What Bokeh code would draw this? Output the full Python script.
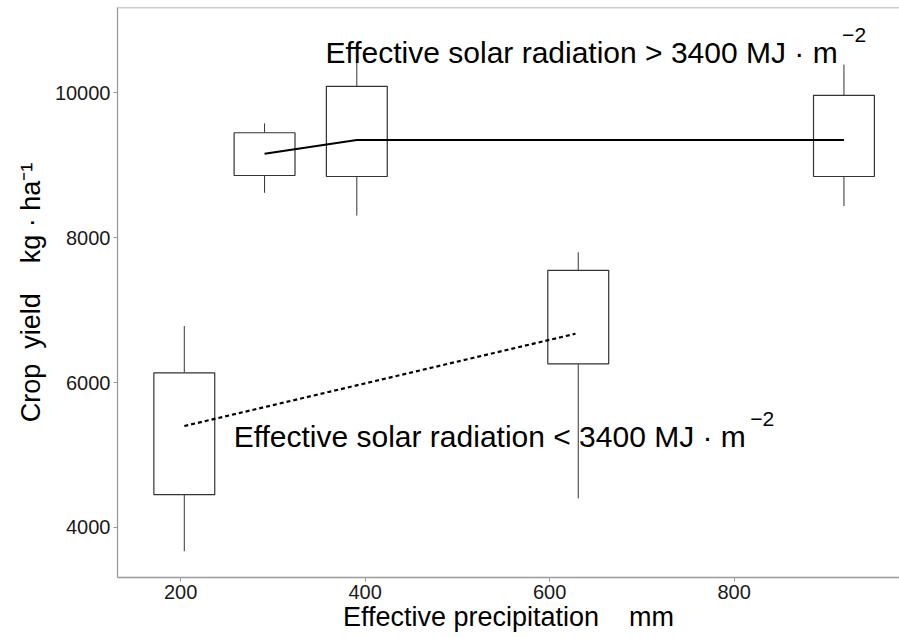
from bokeh.plotting import figure
from bokeh.models import Span, ColumnDataSource
from bokeh.core.properties import value
from bokeh.embed import file_html
from bokeh.resources import INLINE

# ---- data ----
box_x = [204, 291, 391, 631, 919]
whisker_low = [3672, 8620, 8306, 4401, 8436]
q1 = [4452, 8859, 8845, 6259, 8845]
median = [5752, 9224, 9080, 7191, 9256]
q3 = [6134, 9449, 10090, 7550, 9966]
whisker_high = [6780, 9578, 10422, 7799, 10390]
box_width = 66

high_x = [291, 391, 919]
high_y = [9159, 9349, 9349]
low_x = [204, 628]
low_y = [5400, 6674]

x_ticks = [200, 400, 600, 800]
y_ticks = [4000, 6000, 8000, 10000]

ann_text = ["Effective solar radiation > 3400 MJ · m", "Effective solar radiation < 3400 MJ · m"]
ann_x = [357, 257.5]
ann_y = [10560, 5259]
sup_text = ["−2", "−2"]
sup_x = [917, 817.5]
sup_y = [10805, 5494]

FONT = "Liberation Sans"
GRAY = "#9a9a9a"
BOX = "#333333"
NB = "\u00a0"

p = figure(width=899, height=637, x_range=(131.6, 979.2), y_range=(3309, 11178),
           output_backend="svg", toolbar_location=None,
           min_border_left=117, min_border_right=0, min_border_top=7, min_border_bottom=60)
p.outline_line_color = None
p.xgrid.visible = False
p.ygrid.visible = False
p.background_fill_color = "white"

for ax in (p.xaxis[0], p.yaxis[0]):
    ax.axis_line_color = GRAY
    ax.axis_line_width = 1.3
    ax.major_tick_line_color = GRAY
    ax.major_tick_out = 4
    ax.major_tick_in = 0
    ax.minor_tick_line_color = None
    ax.major_label_text_font = FONT
    ax.major_label_text_font_size = "20px"
    ax.major_label_text_color = "#1a1a1a"
    ax.axis_label_text_font = FONT
    ax.axis_label_text_font_size = "27px"
    ax.axis_label_text_font_style = "normal"
    ax.axis_label_text_color = "black"
    ax.major_label_standoff = 3

p.xaxis.ticker = x_ticks
p.yaxis.ticker = y_ticks
p.xaxis.axis_label = "Effective precipitation" + NB * 4 + "mm"
p.yaxis.axis_label = "Crop" + NB * 2 + "yield" + NB * 4 + "kg · ha⁻¹"
p.xaxis.axis_label_standoff = 0
p.yaxis.axis_label_standoff = 6

p.add_layout(Span(location=11178, dimension="width", line_color=GRAY, line_width=1.3))

src = ColumnDataSource(dict(x=box_x, lo=whisker_low, q1=q1, med=median, q3=q3, hi=whisker_high))
p.segment(x0="x", y0="q3", x1="x", y1="hi", source=src, line_color=BOX, line_width=1)
p.segment(x0="x", y0="lo", x1="x", y1="q1", source=src, line_color=BOX, line_width=1)
p.vbar(x="x", width=box_width, bottom="q1", top="q3", source=src,
       fill_color="white", line_color=BOX, line_width=1.2)
p.rect(x="x", y="med", width=box_width, height=0, source=src,
       line_color="#222222", line_width=2.2, fill_color=None)

p.line(high_x, high_y, line_color="black", line_width=2.2)
p.line(low_x, low_y, line_color="black", line_width=2.2, line_dash="4 3")

p.text(x=ann_x, y=ann_y, text=ann_text, text_font=value(FONT), text_font_size="30px",
       text_align="left", text_baseline="alphabetic", text_color="black")
p.text(x=sup_x, y=sup_y, text=sup_text, text_font=value(FONT), text_font_size="21px",
       text_align="left", text_baseline="alphabetic", text_color="black")

open("out.html", "w").write(file_html(p, INLINE))
